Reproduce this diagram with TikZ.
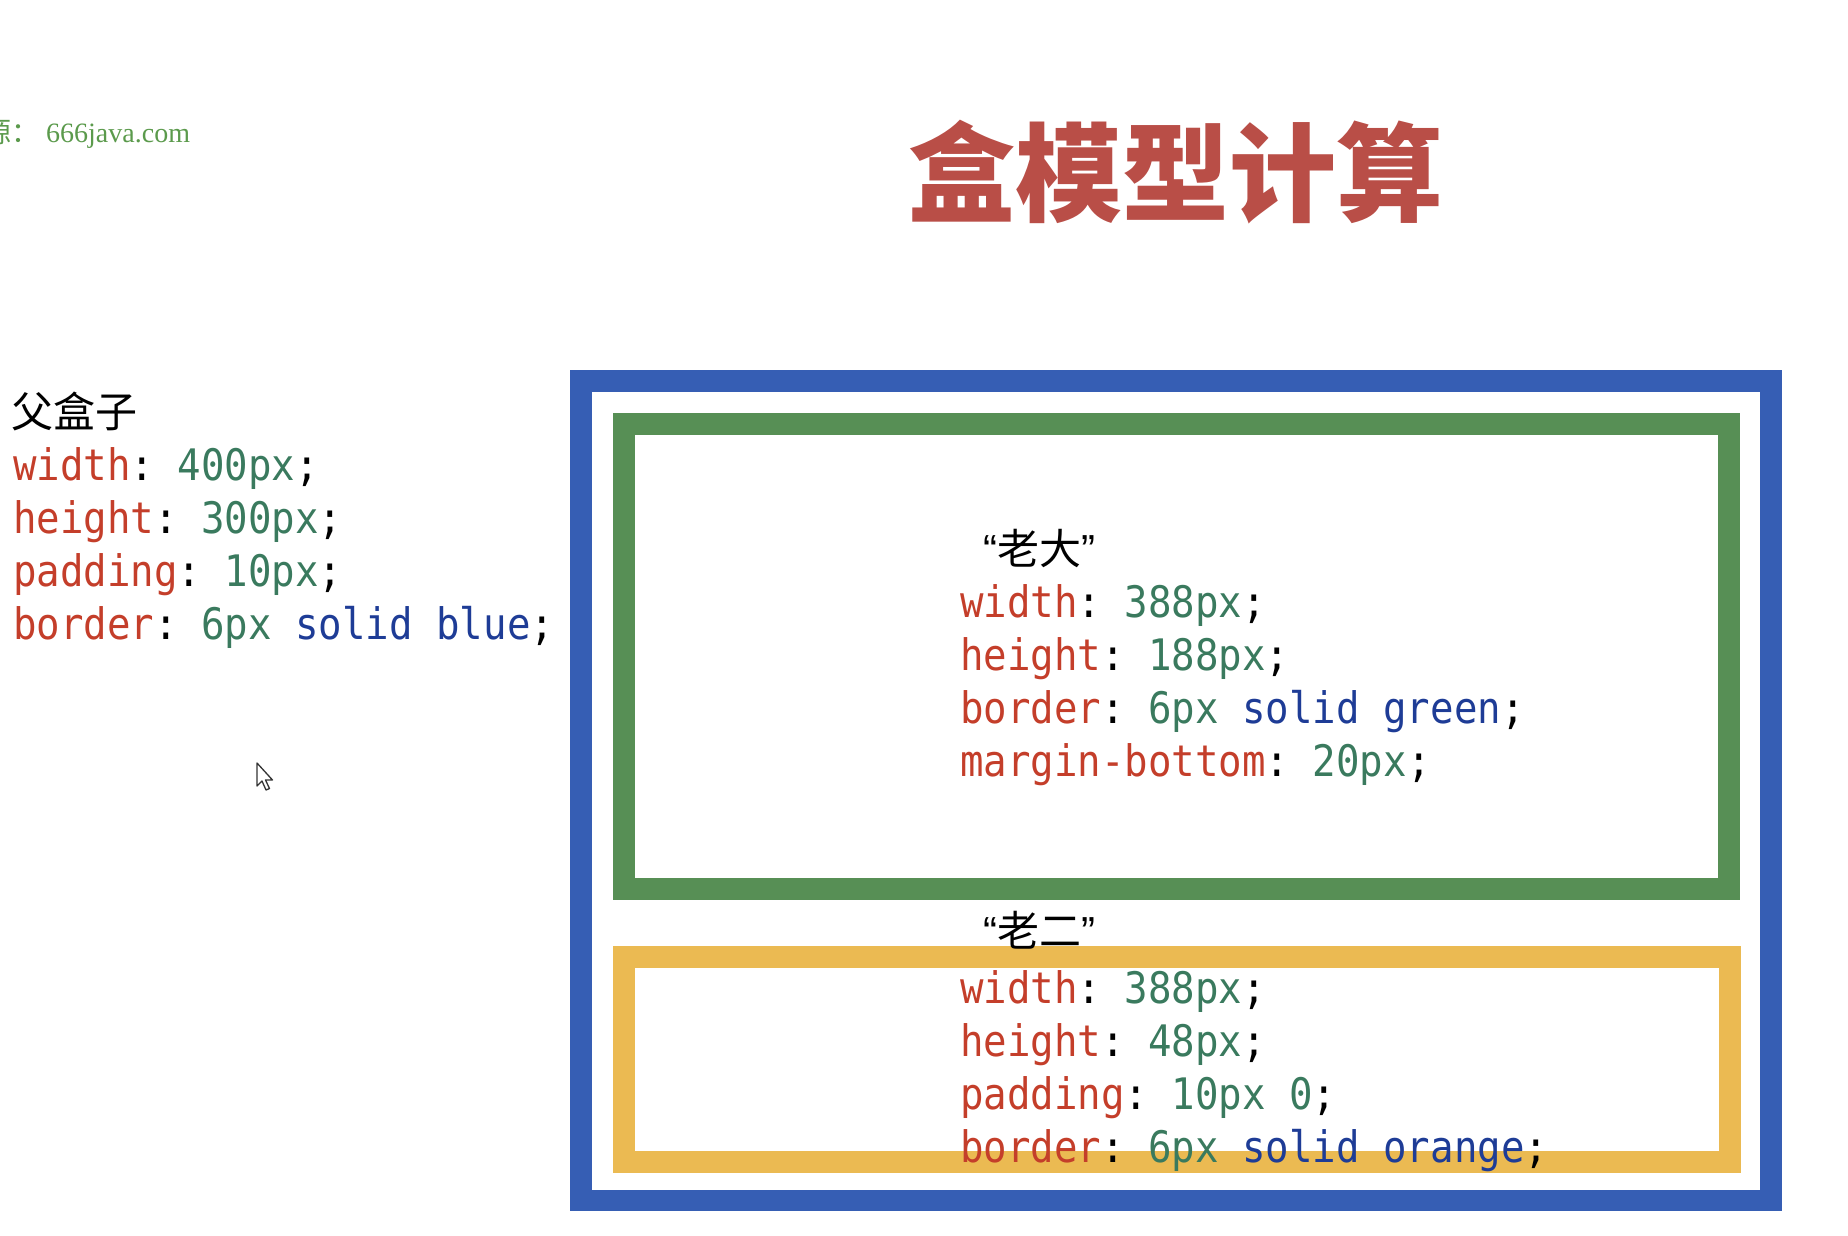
\documentclass[tikz,border=0pt]{standalone}
\usepackage{fontspec}
\usepackage{xcolor}
\usepackage{tikz}
\usetikzlibrary{positioning}
\setmainfont{Liberation Serif}
\newfontfamily\cjk{Noto Sans CJK SC}
\newfontfamily\codefont{DejaVu Sans Mono}[FakeStretch=0.9]
\newfontfamily\qtfont{Liberation Sans}

\definecolor{propred}{RGB}{196,62,42}
\definecolor{valgreen}{RGB}{58,122,94}
\definecolor{kwblue}{RGB}{30,60,150}
\definecolor{boxblue}{RGB}{54,94,180}
\definecolor{boxgreen}{RGB}{87,143,85}
\definecolor{boxorange}{RGB}{235,186,82}
\definecolor{titlered}{RGB}{185,78,71}
\definecolor{srcgreen}{RGB}{91,154,76}

\newcommand{\cssprop}[1]{\textcolor{propred}{#1}}
\newcommand{\cssval}[1]{\textcolor{valgreen}{#1}}
\newcommand{\csskw}[1]{\textcolor{kwblue}{#1}}
\newcommand{\quoted}[1]{{\qtfont “}#1{\qtfont ”}}

\tikzset{
  codeline/.style={anchor=base west, inner sep=0pt, font=\codefont\frenchspacing\fontsize{43.4}{53}\selectfont},
  boxlabel/.style={anchor=base west, inner sep=0pt, font=\cjk\fontsize{42}{50}\selectfont},
}

\begin{document}
\begin{tikzpicture}[x=1pt, y=-1pt]
  \useasboundingbox (0,0) rectangle (1848,1236);

  % Source line and title
  \node[anchor=base west, inner sep=0pt, text=srcgreen, font=\fontsize{28}{34}\selectfont]
    (source) at (-17,143) {{\cjk 源：} 666java.com};
  \node[anchor=base, inner sep=0pt, text=titlered, font=\cjk\bfseries\fontsize{107}{125}\selectfont]
    (title) at (1176,213) {盒模型计算};

  % Parent box description
  \node[boxlabel] (parentname) at (11,427) {父盒子};
  \node[codeline] (parentw) at (13,480) {\cssprop{width}: \cssval{400px};};
  \node[codeline] (parenth) at (13,533) {\cssprop{height}: \cssval{300px};};
  \node[codeline] (parentp) at (13,586) {\cssprop{padding}: \cssval{10px};};
  \node[codeline] (parentb) at (13,639) {\cssprop{border}: \cssval{6px} \csskw{solid blue};};

  % Mouse pointer
  \draw[draw=black!80, fill=white, line width=1.3pt, line join=round]
    (257,763) -- ++(0,23) -- ++(5,-5) -- ++(4,9) -- ++(3.5,-1.5) -- ++(-4,-8.5) -- ++(7,0) -- cycle;

  % The three boxes
  \draw[boxblue, line width=21.5pt] (580.75,380.75) rectangle (1770.75,1200.25);
  \draw[boxgreen, line width=22pt] (624,424) rectangle (1729,889);
  \draw[boxorange, line width=22pt] (624,957) rectangle (1730,1162);

  % First child
  \node[boxlabel] (firstname) at (983,564) {\quoted{老大}};
  \node[codeline] (firstw) at (960,617) {\cssprop{width}: \cssval{388px};};
  \node[codeline] (firsth) at (960,670) {\cssprop{height}: \cssval{188px};};
  \node[codeline] (firstb) at (960,723) {\cssprop{border}: \cssval{6px} \csskw{solid green};};
  \node[codeline] (firstm) at (960,776) {\cssprop{margin-bottom}: \cssval{20px};};

  % Second child
  \node[boxlabel] (secondname) at (983,946) {\quoted{老二}};
  \node[codeline] (secondw) at (960,1003) {\cssprop{width}: \cssval{388px};};
  \node[codeline] (secondh) at (960,1056) {\cssprop{height}: \cssval{48px};};
  \node[codeline] (secondp) at (960,1109) {\cssprop{padding}: \cssval{10px 0};};
  \node[codeline] (secondb) at (960,1162) {\cssprop{border}: \cssval{6px} \csskw{solid orange};};
\end{tikzpicture}
\end{document}
